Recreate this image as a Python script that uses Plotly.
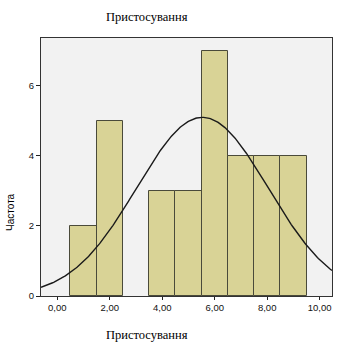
import numpy as np
import plotly.graph_objects as go

# Data
bin_centers = [1, 2, 4, 5, 6, 7, 8, 9]
counts = [2, 5, 3, 3, 7, 4, 4, 4]
x_tick_vals = [0, 2, 4, 6, 8, 10]
x_tick_text = ["0,00", "2,00", "4,00", "6,00", "8,00", "10,00"]
y_tick_vals = [0, 2, 4, 6]
y_tick_text = ["0", "2", "4", "6"]
title_text = "Пристосування"
x_label = "Пристосування"
y_label = "Частота"

# fitted normal curve (SPSS-style) from the histogram data
c = np.array(bin_centers, dtype=float)
n = np.array(counts, dtype=float)
N = n.sum()
mean = (c * n).sum() / N
sd = np.sqrt(((c - mean) ** 2 * n).sum() / (N - 1))
xs = np.linspace(-0.62, 10.47, 300)
ys = N * 1.0 / (sd * np.sqrt(2 * np.pi)) * np.exp(-((xs - mean) ** 2) / (2 * sd ** 2))

fig = go.Figure()
fig.add_trace(go.Bar(
    x=bin_centers, y=counts, width=1.0,
    marker=dict(color="#d9d396", line=dict(color="#4a4a3a", width=1)),
    hoverinfo="skip",
))
fig.add_trace(go.Scatter(
    x=xs, y=ys, mode="lines",
    line=dict(color="#1a1a1a", width=1.4),
    hoverinfo="skip",
))

fig.update_layout(
    width=346, height=348,
    margin=dict(l=41, r=14, t=38, b=52),
    paper_bgcolor="white",
    plot_bgcolor="#f2f2f2",
    showlegend=False,
    bargap=0,
    annotations=[
        dict(text=title_text, xref="paper", yref="paper", x=0.364, y=1.0,
             yshift=21, yanchor="middle", showarrow=False,
             font=dict(family="Liberation Serif", size=12.5, color="black")),
        dict(text=x_label, xref="paper", yref="paper", x=0.364, y=0.0,
             yshift=-39, yanchor="middle", showarrow=False,
             font=dict(family="Liberation Serif", size=12.5, color="black")),
        dict(text=y_label, xref="paper", yref="paper", x=0.0, xshift=-30,
             xanchor="center", y=0.326, yanchor="middle",
             textangle=-90, showarrow=False,
             font=dict(family="Liberation Sans", size=10, color="black")),
    ],
)
fig.update_xaxes(
    range=[-0.62, 10.47],
    tickvals=x_tick_vals, ticktext=x_tick_text,
    ticks="outside", ticklen=3, tickcolor="#222",
    showline=True, linecolor="#333", linewidth=1, mirror=True,
    showgrid=False, zeroline=False,
    tickfont=dict(family="Liberation Sans", size=9.5, color="#111"),
)
fig.update_yaxes(
    range=[0, 7.37],
    tickvals=y_tick_vals, ticktext=y_tick_text,
    ticks="outside", ticklen=4, tickcolor="#222",
    showline=True, linecolor="#333", linewidth=1, mirror=True,
    showgrid=False, zeroline=False,
    tickfont=dict(family="Liberation Sans", size=9.5, color="#111"),
)

fig.write_html("out.html")
